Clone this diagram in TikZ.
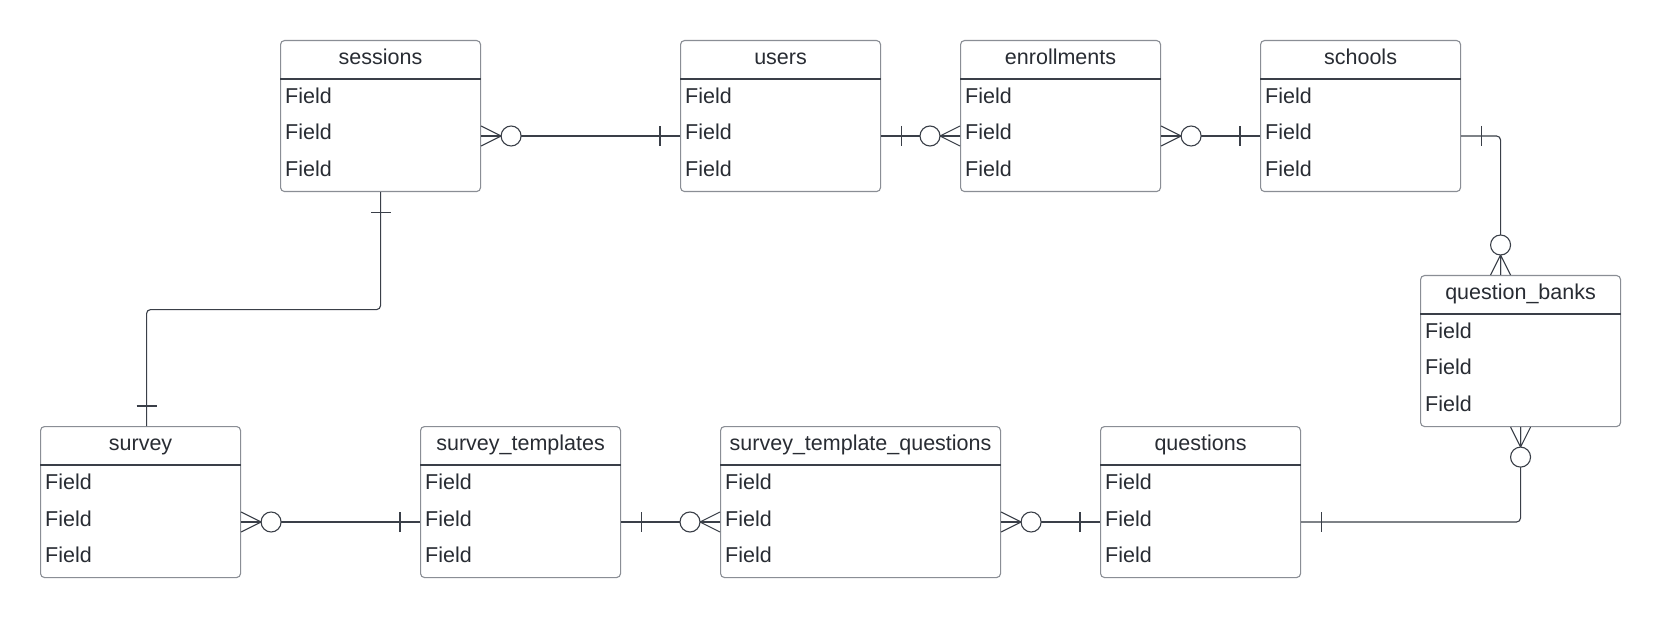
\documentclass[tikz,border=0pt]{standalone}
\usepackage{fontspec}
\setmainfont{Liberation Sans}
\usetikzlibrary{positioning,calc}

\definecolor{boxgray}{HTML}{8A8E95}
\definecolor{linegray}{HTML}{3A3F48}
\definecolor{inkgray}{HTML}{282C33}

\newcommand{\erfont}{\fontsize{21.5}{26}\selectfont}

% entity box: name, x, y, width, title
\newcommand{\erentity}[5]{%
    \node[entity, minimum width=#4] (#1) at (#2,#3) {};
    \node[title] (#1-head) at ($(#1.north)+(0,24.3)$) {#5};
    \draw[boxline] ($(#1.north west)+(0,39)$) -- ($(#1.north east)+(0,39)$);
    \foreach \i in {1,2,3}
        \node[field] (#1-f\i) at ($(#1.north west)+(5,{26.6+36.7*\i})$) {Field};
    \coordinate (#1-p) at ($(#1.north west)+(0,96)$);
}

\begin{document}
\begin{tikzpicture}[
    x=1pt, y=-1pt,
    entity/.style={rectangle, draw=boxgray, line width=1.1pt, rounded corners=4pt,
        anchor=north west, minimum height=151pt, inner sep=0pt},
    boxline/.style={draw=linegray, line width=1.1pt},
    title/.style={anchor=base, inner sep=0pt, text=inkgray, font=\erfont},
    field/.style={anchor=base west, inner sep=0pt, text=inkgray, font=\erfont},
    rel/.style={draw=linegray, line width=1.1pt, rounded corners=4pt},
    erline/.style={draw=linegray, line width=1.1pt},
    zmany/.pic={
        \draw[erline] (0,-10) -- (20,0) -- (0,10) (0,0) -- (20,0);
        \draw[erline, fill=white] (30,0) circle[radius=10];
    },
    one/.pic={
        \draw[erline] (20,-10) -- (20,10);
    }
]
\fill[white] (0,0) rectangle (1660,617);
\useasboundingbox (0,0) rectangle (1660,617);

% Top row entities
\erentity{sessions}{280}{40}{200pt}{sessions}
\erentity{users}{680}{40}{200pt}{users}
\erentity{enrollments}{960}{40}{200pt}{enrollments}
\erentity{schools}{1260}{40}{200pt}{schools}

% Question bank entity
\erentity{qbanks}{1420}{275}{200pt}{question\_banks}

% Bottom row entities
\erentity{survey}{40}{426}{200pt}{survey}
\erentity{templates}{420}{426}{200pt}{survey\_templates}
\erentity{stq}{720}{426}{280pt}{survey\_template\_questions}
\erentity{questions}{1100}{426}{200pt}{questions}

% Lines between entities
\draw[rel] (sessions.east |- sessions-p) -- (users.west |- users-p);
\draw[rel] (users.east |- users-p) -- (enrollments.west |- enrollments-p);
\draw[rel] (enrollments.east |- enrollments-p) -- (schools.west |- schools-p);
\draw[rel] (schools.east |- schools-p) -| ($(qbanks.north)+(-20,0)$);
\draw[rel] (qbanks.south) |- (questions.east |- questions-p);
\draw[rel] (sessions.south) -- ++(0,117.5) -| ($(survey.north)+(6,0)$);
\draw[rel] (survey.east |- survey-p) -- (templates.west |- templates-p);
\draw[rel] (templates.east |- templates-p) -- (stq.west |- stq-p);
\draw[rel] (stq.east |- stq-p) -- (questions.west |- questions-p);

% Crow's foot ends
\pic at (sessions.east |- sessions-p) {zmany};
\pic[rotate=180] at (users.west |- users-p) {one};
\pic at (users.east |- users-p) {one};
\pic[rotate=180] at (enrollments.west |- enrollments-p) {zmany};
\pic at (enrollments.east |- enrollments-p) {zmany};
\pic[rotate=180] at (schools.west |- schools-p) {one};
\pic at (schools.east |- schools-p) {one};
\pic[rotate=90] at ($(qbanks.north)+(-20,0)$) {zmany};
\pic[rotate=-90] at (qbanks.south) {zmany};
\pic at (questions.east |- questions-p) {one};
\pic[rotate=-90] at (sessions.south) {one};
\pic[rotate=90] at ($(survey.north)+(6,0)$) {one};
\pic at (survey.east |- survey-p) {zmany};
\pic[rotate=180] at (templates.west |- templates-p) {one};
\pic at (templates.east |- templates-p) {one};
\pic[rotate=180] at (stq.west |- stq-p) {zmany};
\pic at (stq.east |- stq-p) {zmany};
\pic[rotate=180] at (questions.west |- questions-p) {one};

\end{tikzpicture}
\end{document}
